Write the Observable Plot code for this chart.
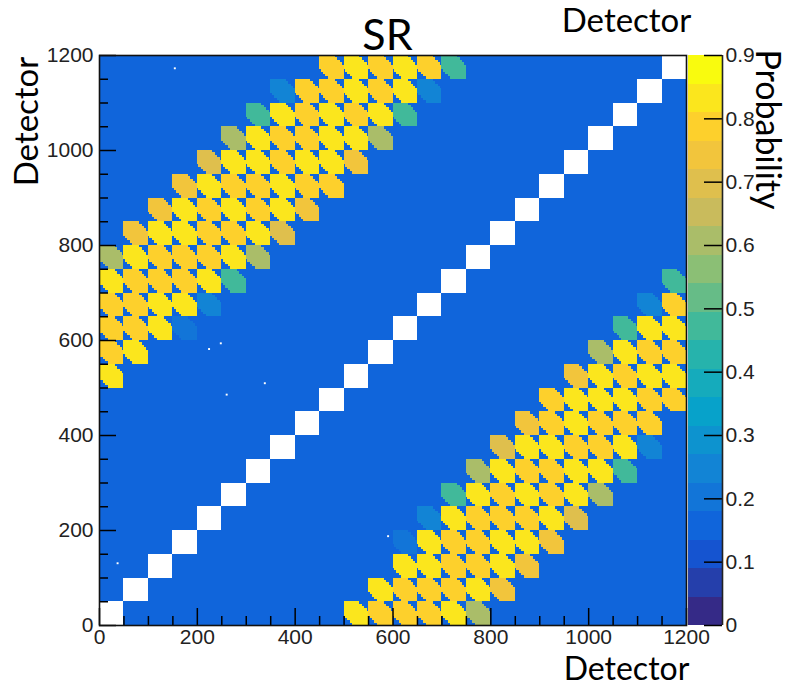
<!DOCTYPE html>
<html>
<head>
<meta charset="utf-8">
<style>
html,body{margin:0;padding:0;background:#fff}
#wrap{position:relative;width:788px;height:685px;overflow:hidden}
#wrap svg{position:absolute;left:0;top:0;background:transparent}
</style>
<script src="https://cdn.jsdelivr.net/npm/d3@7"></script>
<script src="https://cdn.jsdelivr.net/npm/@observablehq/plot@0.6"></script>
</head>
<body>
<div id="wrap"></div>
<script>
// ---- data ----
const blockSize = 50;
const blockCount = 24;
const backgroundValue = 0.165;
// upper-left half of the symmetric matrix: row j (detector block), first column, probabilities
const rowIndex = [23,22,21,20,19,18,17,16,15,14,13,12,11,10];
const rowFirst = [9,7,6,5,4,3,2,1,0,0,0,0,0,0];
const rowValues = [
  [.80,.83,.79,.83,.79,.45],
  [.24,.79,.78,.83,.78,.83,.25],
  [.45,.82,.78,.83,.78,.83,.45],
  [.60,.83,.78,.78,.83,.83,.60],
  [.70,.83,.83,.78,.83,.83,.72],
  [.76,.83,.78,.78,.83,.78,.78],
  [.76,.83,.78,.83,.78,.83,.76],
  [.76,.83,.83,.78,.78,.83,.68],
  [.62,.83,.78,.78,.78,.83,.60],
  [.83,.78,.78,.78,.83,.45],
  [.78,.78,.83,.83,.24],
  [.77,.78,.83,.22],
  [.78,.82],
  [.83]
];
// detector offsets of the response band in each 5-detector row of a block, top row first
const bandLeft  = [0,0,0,0,0,0,3,8,13,18];
const bandRight = [32,37,42,47,50,50,50,50,50,50];
// empty bins visible as white specks
const speckX = [223,247,337,259,153,589,36];
const speckY = [579,591,507,483,1170,185,128];
const xMajor = [0,200,400,600,800,1000,1200];
const xMinor = d3.range(0,1201,50).filter(d=>d%200!==0);
const yMajor = xMajor, yMinor = xMinor;
const barTicks = [0,.1,.2,.3,.4,.5,.6,.7,.8,.9];
const levelCount = 20, zMax = 0.9;
// ROOT kBird palette stops
const birdR=[.2082,.0592,.0780,.0232,.1802,.5301,.8186,.9956,.9764];
const birdG=[.1664,.3599,.5041,.6419,.7178,.7492,.7328,.7862,.9832];
const birdB=[.5293,.8684,.8385,.7914,.6425,.4662,.3499,.1968,.0539];

// ---- tables for the marks ----
const stops = d3.range(9).map(i=>i/8);
const rr=d3.scaleLinear(stops,birdR), gg=d3.scaleLinear(stops,birdG), bb=d3.scaleLinear(stops,birdB);
const levelColors = d3.range(levelCount).map(k=>{const t=k/(levelCount-1);return d3.rgb(rr(t)*255,gg(t)*255,bb(t)*255).formatHex();});
const thresholds = d3.range(1,levelCount).map(k=>k*zMax/levelCount);
const colorScale = {type:"threshold",domain:thresholds,range:levelColors};

const background=[];
for(let i=0;i<blockCount;i++)for(let j=0;j<blockCount;j++)if(i!==j)background.push({i,j,v:backgroundValue});
const tiles=[];
rowIndex.forEach((j,r)=>rowValues[r].forEach((v,n)=>{
  const i=rowFirst[r]+n;
  tiles.push({i,j,v});
  tiles.push({i:j,j:i,v});
}));
const bandCells=tiles.flatMap(t=>bandLeft.map((l,k)=>({
  x1:t.i*blockSize+l, x2:t.i*blockSize+bandRight[k],
  y2:(t.j+1)*blockSize-k*5, y1:(t.j+1)*blockSize-(k+1)*5, v:t.v})));
const specks=speckX.map((x,n)=>({x,y:speckY[n]}));
const levels=d3.range(levelCount).map(k=>({lo:k*zMax/levelCount,hi:(k+1)*zMax/levelCount}));

const W=788,H=685,fw=587,fh=570;
const sans="'Liberation Sans',Arial,sans-serif", cal="Lato,sans-serif";
const tickColor="#000";
const label={frameAnchor:"top-left",lineAnchor:"middle",fontFamily:cal,fill:"#000",textAnchor:"middle"};

const main=Plot.plot({
  width:W,height:H,marginLeft:99,marginRight:102,marginTop:55,marginBottom:60,
  style:{fontFamily:sans,background:"transparent"},
  x:{domain:[0,1200],label:null},
  y:{domain:[0,1200],label:null},
  color:colorScale,
  marks:[
    Plot.rect(background,{x1:d=>d.i*blockSize,x2:d=>(d.i+1)*blockSize,y1:d=>d.j*blockSize,y2:d=>(d.j+1)*blockSize,fill:"v",shapeRendering:"crispEdges"}),
    Plot.rect(bandCells,{x1:"x1",x2:"x2",y1:"y1",y2:"y2",fill:"v",shapeRendering:"crispEdges"}),
    Plot.rect(specks,{x1:"x",x2:d=>d.x+4,y1:"y",y2:d=>d.y+4,fill:"#fff"}),
    Plot.tickX(xMajor,{x:d=>d,stroke:tickColor,strokeWidth:1.5,insetTop:fh-17}),
    Plot.tickX(xMinor,{x:d=>d,stroke:tickColor,strokeWidth:1.5,insetTop:fh-9}),
    Plot.tickY(yMajor,{y:d=>d,stroke:tickColor,strokeWidth:1.5,insetRight:fw-17}),
    Plot.tickY(yMinor,{y:d=>d,stroke:tickColor,strokeWidth:1.5,insetRight:fw-9}),
    Plot.frame({stroke:"#111",strokeWidth:1.6}),
    Plot.axisX({ticks:xMajor,tickSize:0,tickPadding:4,fontSize:21,tickFormat:"d",fill:"#222",label:null}),
    Plot.axisY({ticks:yMajor,tickSize:0,tickPadding:6,fontSize:21,tickFormat:"d",fill:"#222",label:null}),
    Plot.text(["SR"],{...label,dx:387-99,dy:36-55,fontSize:43}),
    Plot.text(["Detector"],{...label,dx:626-99,dy:20.5-55,fontSize:33}),
    Plot.text(["Detector"],{...label,dx:626-99,dy:669-55,fontSize:32}),
    Plot.text(["Detector"],{...label,dx:26.5-99,dy:121-55,fontSize:33,rotate:-90})
  ]
});

const bar=Plot.plot({
  width:W,height:H,marginLeft:688,marginRight:66,marginTop:55,marginBottom:60,
  style:{fontFamily:sans,background:"transparent"},
  x:{domain:[0,1],axis:null},
  y:{domain:[0,zMax],label:null,axis:null},
  color:colorScale,
  marks:[
    Plot.rect(levels,{x1:0,x2:1,y1:"lo",y2:"hi",fill:d=>(d.lo+d.hi)/2,shapeRendering:"crispEdges"}),
    Plot.tickY(barTicks,{y:d=>d,stroke:tickColor,strokeWidth:1.5,insetLeft:16}),
    Plot.ruleX([1],{stroke:"#222",strokeWidth:1.6}),
    Plot.axisY({anchor:"right",ticks:barTicks,tickSize:0,tickPadding:3,fontSize:21,tickFormat:d=>d===0?"0":d3.format(".1f")(d),fill:"#222",label:null}),
    Plot.text(["Probability"],{...label,dx:766-688,dy:129-55,fontSize:34,rotate:90})
  ]
});
document.getElementById("wrap").append(main,bar);
</script>
</body>
</html>
